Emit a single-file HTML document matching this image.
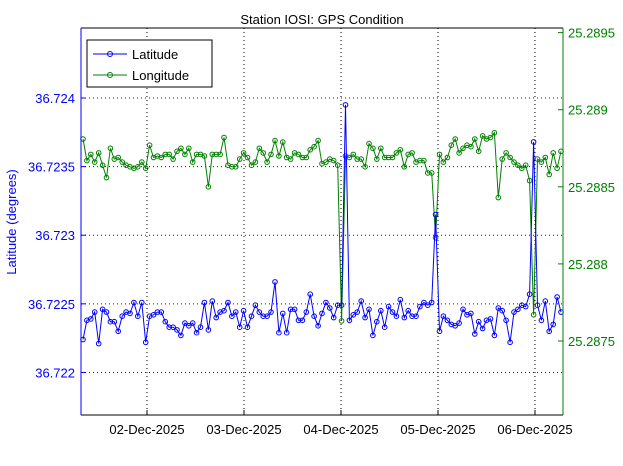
<!DOCTYPE html>
<html><head><meta charset="utf-8">
<style>
html,body{margin:0;padding:0;background:#fff;}
svg{display:block;font-family:"Liberation Sans",sans-serif;}
</style></head>
<body>
<svg id="chart" width="623" height="466" viewBox="0 0 623 466">
<rect x="0" y="0" width="623" height="466" fill="#fff"/>
<g id="grid"></g>
<g id="series"></g>
<g id="axes"></g>
<text x="322" y="24" text-anchor="middle" font-size="13" fill="#000">Station IOSI: GPS Condition</text>
<text transform="translate(16,222) rotate(-90)" text-anchor="middle" font-size="13" fill="#0000ff">Latitude (degrees)</text>
<g>
<rect x="87" y="40" width="125" height="47" fill="#fff" stroke="#000" stroke-width="1"/>
<g>
<line x1="93" y1="54" x2="127" y2="54" stroke="#0000ff"/>
<circle cx="110" cy="54" r="2.5" fill="none" stroke="#0000ff"/>
<text x="132" y="59" font-size="13" fill="#000">Latitude</text>
</g>
<g>
<line x1="93" y1="75" x2="127" y2="75" stroke="#008000"/>
<circle cx="110" cy="75" r="2.5" fill="none" stroke="#008000"/>
<text x="132" y="80" font-size="13" fill="#000">Longitude</text>
</g>
</g>
</svg>
<script>
const latValues = [36.72224,36.72238,36.72239,36.72244,36.72221,36.72246,36.72244,36.72237,36.72237,36.7223,36.72241,36.72244,36.72243,36.72251,36.72241,36.72251,36.72222,36.72241,36.72242,36.72244,36.72244,36.72237,36.72233,36.72233,36.72231,36.72227,36.72236,36.72234,36.72236,36.72229,36.72233,36.72251,36.72231,36.72252,36.7224,36.72244,36.72245,36.72251,36.72241,36.72244,36.72233,
36.72245,36.72233,36.72241,36.72249,36.72244,36.72241,36.72241,36.72244,36.72266,36.72229,36.72243,36.72229,36.72246,36.72246,36.72238,36.72238,36.72244,36.72257,36.72241,36.72234,36.72243,36.72251,36.72247,36.7224,36.72249,36.72249,36.72395,36.72238,36.72242,36.72244,36.72252,36.7224,36.72246,36.72227,36.72237,36.72245,36.72233,36.72248,36.72244,36.72241,36.72253,
36.7224,36.72245,36.72241,36.72241,36.72248,36.72251,36.72249,36.72251,36.72315,36.7223,36.72241,36.72238,36.72235,36.72234,36.72236,36.72246,36.72242,36.72243,36.72228,36.72237,36.72232,36.72238,36.72239,36.72227,36.72247,36.72245,36.72238,36.72222,36.72244,36.72246,36.72249,36.72248,36.72257,36.72368,36.72249,36.72238,36.72252,36.7223,36.72235,36.72255,36.72244];
const lonValues = [25.28881,25.28867,25.28871,25.28866,25.28872,25.28864,25.28856,25.28875,25.28868,25.28869,25.28866,25.28864,25.28863,25.28862,25.28863,25.28866,25.28862,25.28877,25.28869,25.2887,25.28869,25.28871,25.28871,25.28868,25.28873,25.28875,25.28871,25.28875,25.28866,25.28871,25.28871,25.2887,25.2885,25.28871,25.28871,25.28871,25.28882,25.28864,25.28863,25.28863,25.28868,25.28872,
25.28869,25.28864,25.28866,25.28875,25.28872,25.28866,25.28871,25.2888,25.2887,25.28879,25.28869,25.28868,25.28872,25.28871,25.28869,25.28869,25.28874,25.28876,25.2888,25.28865,25.28866,25.28868,25.28867,25.28864,25.28763,25.2887,25.28869,25.28871,25.28868,25.28868,25.28863,25.28878,25.28875,25.28868,25.28875,25.28869,25.28869,25.28869,25.28872,
25.28874,25.28863,25.28871,25.28872,25.28866,25.28867,25.28867,25.28859,25.28859,25.28817,25.28871,25.28866,25.28869,25.28877,25.28881,25.28872,25.28875,25.28877,25.28876,25.28881,25.28873,25.28883,25.28881,25.28882,25.28885,25.28843,25.28868,25.28872,25.28869,25.28866,25.28864,25.28862,25.28864,25.28854,25.28767,25.28868,25.28866,25.28869,25.28858,25.28872,25.28862,25.28873];
const startDay = 1.340;
const endDay = 6.268;
const xTickDays = [2,3,4,5,6];
const xTickLabels = ["02-Dec-2025","03-Dec-2025","04-Dec-2025","05-Dec-2025","06-Dec-2025"];
const latTicks = [36.722,36.7225,36.723,36.7235,36.724];
const latTickLabels = ["36.722","36.7225","36.723","36.7235","36.724"];
const lonTicks = [25.2875,25.288,25.2885,25.289,25.2895];
const lonTickLabels = ["25.2875","25.288","25.2885","25.289","25.2895"];

const L=81,R=563,T=28,B=415;
const xMin=1.3196,xMax=6.2887;
const latMin=36.72169,latMax=36.72451;
const lonMin=25.28702,lonMax=25.28953;
const NS="http://www.w3.org/2000/svg";
function xS(d){return L+(d-xMin)/(xMax-xMin)*(R-L);}
function yLat(v){return B-(v-latMin)/(latMax-latMin)*(B-T);}
function yLon(v){return B-(v-lonMin)/(lonMax-lonMin)*(B-T);}
function mk(tag,attrs,parent){const e=document.createElementNS(NS,tag);for(const k in attrs)e.setAttribute(k,attrs[k]);parent.appendChild(e);return e;}
const grid=document.getElementById('grid'),axes=document.getElementById('axes'),ser=document.getElementById('series');

xTickDays.forEach((d,i)=>{
  const x=xS(d);
  const g=mk('line',{x1:x,y1:T,x2:x,y2:B,stroke:'#000','stroke-dasharray':'1 3'},grid);
  
  
  const t=mk('line',{x1:x,y1:B,x2:x,y2:B-5,stroke:'#000'},axes);
  
  
  const lb=mk('text',{x:x,y:B+19,'text-anchor':'middle','font-size':13,fill:'#000'},axes);
  lb.textContent=xTickLabels[i];
  
  
});
latTicks.forEach((v,i)=>{
  const y=yLat(v);
  const g=mk('line',{x1:L,y1:y,x2:R,y2:y,stroke:'#0000ff','stroke-dasharray':'1 3'},grid);
  
  
  const t=mk('line',{x1:L,y1:y,x2:L+5,y2:y,stroke:'#0000ff'},axes);
  
  
  const lb=mk('text',{x:L-6,y:y+5,'text-anchor':'end','font-size':13,fill:'#0000ff'},axes);
  lb.textContent=latTickLabels[i];
  
  
});
lonTicks.forEach((v,i)=>{
  const y=yLon(v);
  const t=mk('line',{x1:R,y1:y,x2:R-5,y2:y,stroke:'#008000'},axes);
  
  
  const lb=mk('text',{x:R+5,y:y+5,'text-anchor':'start','font-size':13,fill:'#008000'},axes);
  lb.textContent=lonTickLabels[i];
  
  
});
const ax1=mk('line',{x1:L,y1:T,x2:R,y2:T,stroke:'#000'},axes);


const ax2=mk('line',{x1:L,y1:B,x2:R,y2:B,stroke:'#000'},axes);


const ax3=mk('line',{x1:L,y1:T,x2:L,y2:B,stroke:'#0000ff'},axes);


const ax4=mk('line',{x1:R,y1:T,x2:R,y2:B,stroke:'#008000'},axes);



function drawSeries(vals,yf,color,name){
  const n=vals.length;
  const pts=vals.map((v,i)=>[xS(startDay+(endDay-startDay)*i/(n-1)),yf(v)]);
  const pl=mk('polyline',{points:pts.map(p=>p[0].toFixed(1)+','+p[1].toFixed(1)).join(' '),fill:'none',stroke:color,'stroke-width':1},ser);
  
  
  pts.forEach(p=>{
    const c=mk('circle',{cx:p[0].toFixed(1),cy:p[1].toFixed(1),r:2.3,fill:'none',stroke:color,'stroke-width':1},ser);
    
    
  });
}
drawSeries(lonValues,yLon,'#008000','longitude');
drawSeries(latValues,yLat,'#0000ff','latitude');
</script>
</body></html>
